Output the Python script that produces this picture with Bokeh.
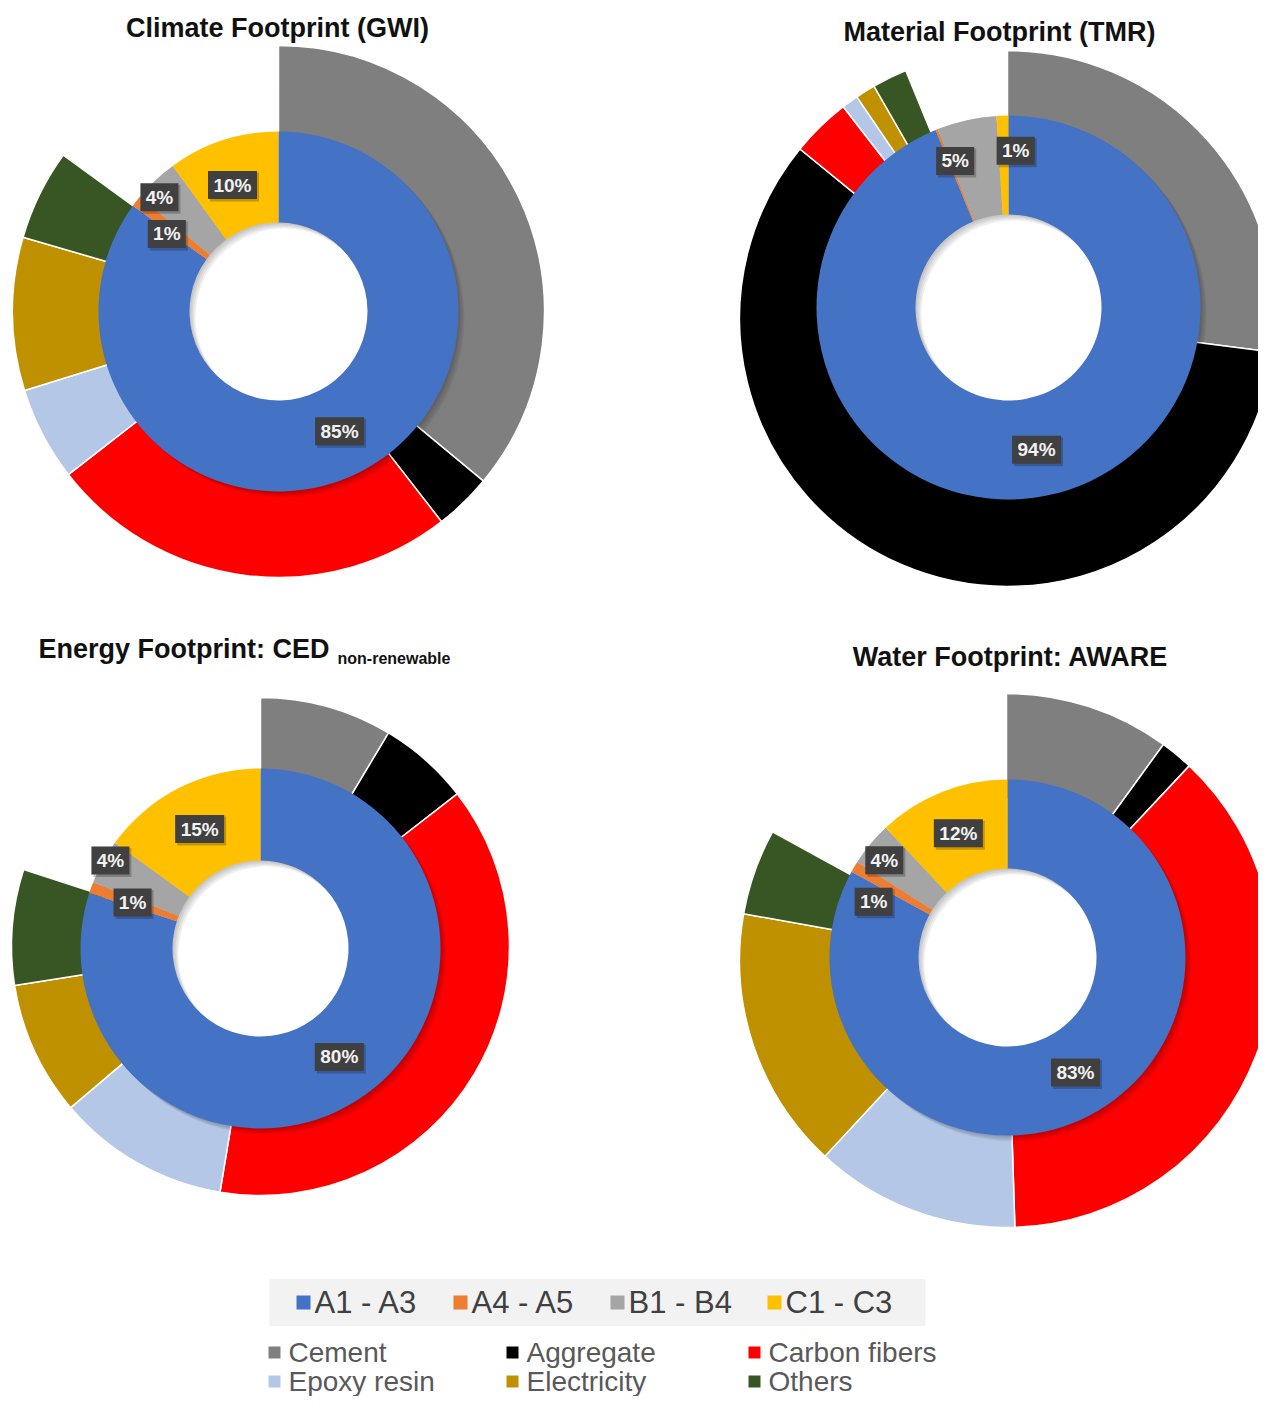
import numpy as np
from bokeh.plotting import figure
from bokeh.models import ColumnDataSource, Range1d
from bokeh.embed import file_html
from bokeh.resources import INLINE
from bokeh.core.properties import value

# ---------------- data ----------------
stages = ["A1 - A3", "A4 - A5", "B1 - B4", "C1 - C3"]
stage_colors = ["#4472C4", "#ED7D31", "#A5A5A5", "#FFC000"]

materials = ["Cement", "Aggregate", "Carbon fibers", "Epoxy resin", "Electricity", "Others"]
material_colors = ["#7F7F7F", "#000000", "#FF0000", "#B4C7E7", "#BF9000", "#375623"]

panel_titles = ["Climate Footprint (GWI)", "Material Footprint (TMR)",
                "Energy Footprint: CED", "Water Footprint: AWARE"]
energy_subscript = "non-renewable"

# share of each life-cycle stage (%)
climate_stages = [85, 1, 4, 10]
material_stages = [93.8, 0.2, 5, 1]
energy_stages = [80, 1, 4, 15]
water_stages = [83, 1, 4, 12]

# contribution of each material / process inside A1 - A3 (% of total)
climate_materials = [36, 3.5, 25, 5.7, 9.3, 5.5]
material_materials = [27, 58.9, 3.6, 1.0, 1.2, 2.1]
energy_materials = [8.6, 5.9, 38.1, 11.2, 8.7, 7.5]
water_materials = [10, 2, 37.5, 12.4, 15.9, 5.2]

stage_data = [climate_stages, material_stages, energy_stages, water_stages]
material_data = [climate_materials, material_materials, energy_materials, water_materials]

# ---------------- layout (picture pixels) ----------------
W, H = 1258, 1396
def Y(yp):
    return H - yp

layouts = [
    dict(cx=278, cy=311, r0=89, r1=180, ocx=278, ocy=311, r2=266, tx=277, ty=27, align="center"),
    dict(cx=1008, cy=307, r0=93, r1=192, ocx=1007, ocy=318, r2=268, tx=999, ty=31, align="center"),
    dict(cx=260, cy=948, r0=88, r1=180, ocx=260, ocy=946, r2=249, tx=38, ty=648, align="left"),
    dict(cx=1007, cy=957, r0=89, r1=178, ocx=1006, ocy=960, r2=267, tx=1010, ty=656, align="center"),
]
# label placement per stage: (angle nudge in degrees, radius or None = mid ring)
label_place = [
    [(0, None), (-3, 136), (-3, 165), (-2, None)],
    [(0, 145), (0, None), (-7.4, 156), (4.4, 157)],
    [(0, None), (0, 136), (1.6, 174), (0, None)],
    [(0, None), (-8, 145), (-1.3, 157), (0, None)],
]

p = figure(width=W, height=H, output_backend="svg", toolbar_location=None,
           x_range=Range1d(0, W), y_range=Range1d(0, H), min_border=0)
p.axis.visible = False
p.grid.visible = False
p.outline_line_color = None
p.background_fill_color = "white"
p.border_fill_color = "white"

FONT = value("Liberation Sans")

def wedges(vals):
    v = np.array(vals, dtype=float)
    cum = np.concatenate([[0.0], np.cumsum(v)])
    return cum[:-1] * 3.6, cum[1:] * 3.6

for i, lay in enumerate(layouts):
    cx, cyd = lay["cx"], Y(lay["cy"])
    # outer ring: materials inside A1-A3 (inner edge hidden under the inner ring)
    th0, th1 = wedges(material_data[i])
    src_o = ColumnDataSource(dict(start=np.radians(90 - th0), end=np.radians(90 - th1),
                                  color=material_colors, name=materials))
    p.annular_wedge(x=lay["ocx"], y=Y(lay["ocy"]), inner_radius=lay["r1"] - 16,
                    outer_radius=lay["r2"],
                    start_angle="start", end_angle="end", direction="clock",
                    fill_color="color", line_color="white", line_width=1.5, source=src_o)
    # soft shadow of inner ring
    for off in [1.5, 3.0, 4.5, 6.0]:
        p.annulus(x=cx + off, y=cyd - off, inner_radius=lay["r0"], outer_radius=lay["r1"],
                  fill_color="black", fill_alpha=0.06, line_color=None)
    # inner ring: stages
    th0, th1 = wedges(stage_data[i])
    src_i = ColumnDataSource(dict(start=np.radians(90 - th0), end=np.radians(90 - th1),
                                  color=stage_colors, name=stages))
    p.annular_wedge(x=cx, y=cyd, inner_radius=lay["r0"], outer_radius=lay["r1"],
                    start_angle="start", end_angle="end", direction="clock",
                    fill_color="color", line_color=None, source=src_i)
    # data labels
    lx, ly, lt, lw = [], [], [], []
    for j, v in enumerate(stage_data[i]):
        if v < 0.5:
            continue
        nud, rr = label_place[i][j]
        if rr is None:
            rr = (lay["r0"] + lay["r1"]) / 2
        th = np.radians((th0[j] + th1[j]) / 2 + nud)
        lx.append(cx + rr * np.sin(th))
        ly.append(Y(lay["cy"] - rr * np.cos(th)))
        t = f"{round(v)}%"
        lt.append(t)
        lw.append(11 * len(t) + 16)
    lsrc = ColumnDataSource(dict(x=lx, y=ly, t=lt, w=lw))
    p.rect(x="x", y="y", width="w", height=29, width_units="screen", height_units="screen",
           source=ColumnDataSource(dict(x=[a + 2 for a in lx], y=[b - 2 for b in ly], w=lw)),
           fill_color="black", fill_alpha=0.22, line_color=None)
    p.rect(x="x", y="y", width="w", height=28, width_units="screen", height_units="screen",
           source=lsrc, fill_color="#404040", line_color=None)
    p.text(x="x", y="y", text="t", source=lsrc, text_font=FONT, text_font_size="19px",
           text_font_style="bold", text_color="#F2F2F2", text_align="center",
           text_baseline="middle")
    # title
    p.text(x=[lay["tx"]], y=[Y(lay["ty"])], text=[panel_titles[i]], text_font=FONT,
           text_font_size="27px", text_font_style="bold", text_color="#111111",
           text_align=lay["align"], text_baseline="middle")

# subscript of energy title
p.text(x=[337], y=[Y(658)], text=[energy_subscript], text_font=FONT,
       text_font_size="16px", text_font_style="bold", text_color="#111111",
       text_align="left", text_baseline="middle")

# ---------------- legends ----------------
p.rect(x=[597], y=[Y(1302)], width=656, height=47, fill_color="#F2F2F2", line_color=None)
lg1_x = [303 + 157 * k for k in range(len(stages))]
p.rect(x=lg1_x, y=[Y(1302)] * 4, width=14, height=14, fill_color=stage_colors, line_color=None)
p.text(x=[x + 11 for x in lg1_x], y=[Y(1302)] * 4, text=stages, text_font=FONT,
       text_font_size="31px", text_color="#404040", text_align="left", text_baseline="middle")

col_x = [274, 512, 754]
row_y = [1352, 1381]
mx = [col_x[k % 3] for k in range(len(materials))]
my = [Y(row_y[k // 3]) for k in range(len(materials))]
p.rect(x=mx, y=my, width=12, height=12, fill_color=material_colors, line_color=None)
p.text(x=[x + 14 for x in mx], y=my, text=materials, text_font=FONT,
       text_font_size="28px", text_color="#595959", text_align="left", text_baseline="middle")

open("out.html", "w").write(file_html(p, INLINE))
